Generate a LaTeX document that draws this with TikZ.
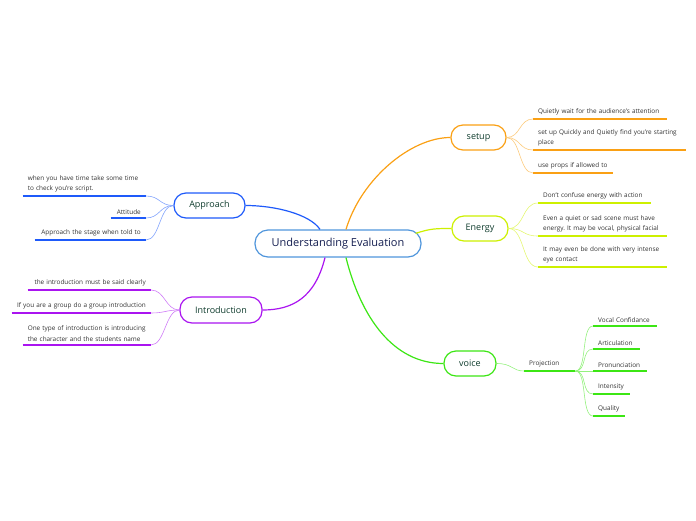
\documentclass[tikz,border=0pt]{standalone}
\usepackage{fontspec}
\setmainfont{Open Sans}
\frenchspacing
\definecolor{mmblue}{RGB}{30,90,250}
\definecolor{mmorange}{RGB}{250,160,20}
\definecolor{mmlime}{RGB}{205,240,0}
\definecolor{mmgreen}{RGB}{60,230,20}
\definecolor{mmpurple}{RGB}{170,20,240}
\definecolor{mmcentre}{RGB}{80,150,220}
\definecolor{mmnavy}{RGB}{20,30,80}
\definecolor{mmteal}{RGB}{15,60,45}
\definecolor{mmtext}{RGB}{50,50,50}
\usetikzlibrary{positioning}

\begin{document}
\begin{tikzpicture}[x=1pt,y=-1pt,
  topic/.style={draw=#1, line width=1.2pt, fill=white, rounded corners=12pt,
    minimum height=25pt, text=mmteal, font=\fontsize{9}{10}\selectfont},
  leaf/.style 2 args={inner xsep=5pt, inner ysep=3.5pt, text width=#2, text=mmtext,
    font=\fontsize{6.4}{10.5}\selectfont,
    append after command={(\tikzlastnode.south west) edge[draw=#1, line width=1.3pt] (\tikzlastnode.south east)}},
  twig/.style={draw=#1!55, line width=0.6pt},
  branch/.style={draw=#1, line width=1.2pt}]
  \useasboundingbox (0,0) rectangle (696,520);

  % Central topic
  \node[draw=mmcentre, line width=1.2pt, fill=white, rounded corners=13pt, minimum width=166pt,
    minimum height=27pt, text=mmnavy, font=\fontsize{11}{12}\selectfont] (centre) at (338,243.5) {Understanding Evaluation};

  % Main topics
  \node[topic=mmorange, minimum width=55pt] (setup) at (478.5,137.5) {setup};
  \node[topic=mmlime, minimum width=56pt] (energy) at (480,228.5) {Energy};
  \node[topic=mmgreen, minimum width=52pt] (voice) at (470,363.5) {voice};
  \node[topic=mmblue, minimum width=71pt] (approach) at (209.5,205.5) {Approach};
  \node[topic=mmpurple, minimum width=82pt, minimum height=26pt] (intro) at (221,310) {Introduction};

  % Branches
  \draw[branch=mmblue] ([xshift=-18pt]centre.north) .. controls +(-10,-15) and +(30,0) .. (approach.east);
  \draw[branch=mmorange] ([xshift=8pt]centre.north) .. controls +(15,-50) and +(-40,0) .. (setup.west);
  \draw[branch=mmlime] ([xshift=-6pt,yshift=-4pt]centre.north east) .. controls +(15,-5) and +(-15,0) .. (energy.west);
  \draw[branch=mmgreen] ([xshift=8pt]centre.south) .. controls +(15,60) and +(-50,0) .. (voice.west);
  \draw[branch=mmpurple] ([xshift=-13pt]centre.south) .. controls +(-10,40) and +(30,0) .. (intro.east);

  % setup
  \node[leaf={mmorange}{124pt}, anchor=south west, align=left] (s1) at (533,119) {Quietly wait for the audience's attention};
  \node[leaf={mmorange}{143pt}, anchor=south west, align=left] (s2) at (533,150) {set up Quickly and Quietly find you're starting\\place};
  \node[leaf={mmorange}{70pt}, anchor=south west, align=left] (s3) at (533,173) {use props if allowed to};
  \draw[twig=mmorange] (setup.east) .. controls +(14,0) and +(-14,0) .. (s1.south west);
  \draw[twig=mmorange] (setup.east) .. controls +(14,0) and +(-14,0) .. (s2.south west);
  \draw[twig=mmorange] (setup.east) .. controls +(14,0) and +(-14,0) .. (s3.south west);

  % Energy
  \node[leaf={mmlime}{103pt}, anchor=south west, align=left] (e1) at (538,203) {Don't confuse energy with action};
  \node[leaf={mmlime}{119pt}, anchor=south west, align=left] (e2) at (538,236) {Even a quiet or sad scene must have\\energy. It may be vocal, physical facial};
  \node[leaf={mmlime}{119pt}, anchor=south west, align=left] (e3) at (538,267) {It may even be done with very intense\\eye contact};
  \draw[twig=mmlime] (energy.east) .. controls +(16,0) and +(-16,0) .. (e1.south west);
  \draw[twig=mmlime] (energy.east) .. controls +(16,0) and +(-16,0) .. (e2.south west);
  \draw[twig=mmlime] (energy.east) .. controls +(16,0) and +(-16,0) .. (e3.south west);

  % voice
  \node[leaf={mmgreen}{41pt}, anchor=south west, align=left] (proj) at (524,371) {Projection};
  \node[leaf={mmgreen}{54pt}, anchor=south west, align=left] (v1) at (593,326) {Vocal Confidance};
  \node[leaf={mmgreen}{37pt}, anchor=south west, align=left] (v2) at (593,349) {Articulation};
  \node[leaf={mmgreen}{44pt}, anchor=south west, align=left] (v3) at (593,371) {Pronunciation};
  \node[leaf={mmgreen}{27pt}, anchor=south west, align=left] (v4) at (593,394) {Intensity};
  \node[leaf={mmgreen}{22pt}, anchor=south west, align=left] (v5) at (593,416) {Quality};
  \draw[twig=mmgreen] (voice.east) .. controls +(16,0) and +(-12,0) .. (proj.south west);
  \draw[twig=mmgreen] (proj.south east) .. controls +(12,0) and +(-12,0) .. (v1.south west);
  \draw[twig=mmgreen] (proj.south east) .. controls +(12,0) and +(-12,0) .. (v2.south west);
  \draw[twig=mmgreen] (proj.south east) -- (v3.south west);
  \draw[twig=mmgreen] (proj.south east) .. controls +(12,0) and +(-12,0) .. (v4.south west);
  \draw[twig=mmgreen] (proj.south east) .. controls +(12,0) and +(-12,0) .. (v5.south west);

  % Approach
  \node[leaf={mmblue}{113pt}, anchor=south east, align=left] (a1) at (146,196) {when you have time take some time\\to check you're script.};
  \node[leaf={mmblue}{25pt}, anchor=south east, align=right] (a2) at (146,218) {Attitude};
  \node[leaf={mmblue}{101pt}, anchor=south east, align=right] (a3) at (146,240) {Approach the stage when told to};
  \draw[twig=mmblue] (approach.west) .. controls +(-14,0) and +(14,0) .. (a1.south east);
  \draw[twig=mmblue] (approach.west) .. controls +(-14,0) and +(14,0) .. (a2.south east);
  \draw[twig=mmblue] (approach.west) .. controls +(-14,0) and +(14,0) .. (a3.south east);

  % Introduction
  \node[leaf={mmpurple}{113pt}, anchor=south east, align=right] (i1) at (151,290) {the introduction must be said clearly};
  \node[leaf={mmpurple}{129pt}, anchor=south east, align=right] (i2) at (151,313) {If you are a group do a group introduction};
  \node[leaf={mmpurple}{118pt}, anchor=south east, align=left] (i3) at (151,345) {One type of introduction is introducing\\the character and the students name};
  \draw[twig=mmpurple] (intro.west) .. controls +(-14,0) and +(14,0) .. (i1.south east);
  \draw[twig=mmpurple] (intro.west) .. controls +(-14,0) and +(14,0) .. (i2.south east);
  \draw[twig=mmpurple] (intro.west) .. controls +(-14,0) and +(14,0) .. (i3.south east);
\end{tikzpicture}
\end{document}
